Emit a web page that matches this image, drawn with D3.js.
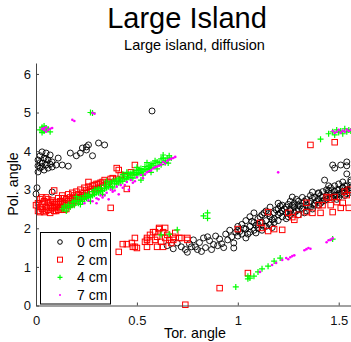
<!DOCTYPE html>
<html>
<head>
<meta charset="utf-8">
<script src="https://cdn.jsdelivr.net/npm/d3@7"></script>
<style>
  body { margin: 0; background: #fff; }
  svg { display: block; font-family: 'Liberation Sans', Arial, sans-serif; }
</style>
</head>
<body>
<div id="chart"></div>
<script>
// series names shown in the legend
var seriesNames = ['0 cm', '2 cm', '4 cm', '7 cm'];

// tick labels
var xTicks = [0, 0.5, 1, 1.5];
var yTicks = [0, 1, 2, 3, 4, 5, 6];

// 0 cm  [tor, pol]
var cm0 = [
  [0.01,3.77],[0.02,3.88],[0.03,3.69],[0.04,3.82],[0.05,3.64],[0.06,3.77],[0.07,3.90],[0.08,3.72],
  [0.02,3.56],[0.04,3.51],[0.01,3.46],[0.06,3.56],[0.08,3.59],[0.03,3.98],[0.05,3.95],[0.00,2.89],
  [0.005,3.05],[0.08,2.94],[0.10,3.64],[0.11,3.82],[0.13,3.64],[0.16,3.61],[0.17,3.95],[0.20,3.88],
  [0.22,3.95],[0.23,4.08],[0.25,4.11],[0.25,4.03],[0.26,4.16],[0.28,3.88],[0.31,4.21],[0.34,4.16],
  [0.02,3.70],[0.03,3.60],[0.05,3.80],[0.07,3.66],[0.01,3.62],
  [0.575,5.04],
  [0.65,1.55],[0.68,1.47],[0.70,1.62],[0.72,1.52],[0.74,1.45],[0.76,1.60],[0.78,1.70],[0.79,1.52],
  [0.81,1.63],[0.83,1.75],[0.84,1.50],[0.86,1.68],[0.88,1.58],[0.89,1.80],[0.91,1.72],[0.92,1.60],
  [0.94,1.85],[0.95,1.70],[0.97,1.78],[0.98,1.62],[0.99,1.90],[0.82,1.40],[0.87,1.45],[0.93,1.50],
  [0.75,1.38],[0.98,1.49],[0.96,1.95],[0.90,1.55],[0.85,1.78],[0.80,1.45],[0.77,1.52],
  [1.00,1.80],[1.00,2.05],[1.00,1.95],[1.02,2.10],[1.02,1.85],[1.04,1.98],[1.04,2.20],[1.04,1.75],
  [1.06,2.05],[1.06,2.30],[1.06,1.90],[1.08,2.15],[1.08,1.95],[1.08,2.40],[1.10,2.00],[1.10,2.25],
  [1.10,2.10],[1.12,2.35],[1.12,2.15],[1.12,1.95],[1.14,2.20],[1.14,2.45],[1.14,2.05],[1.16,2.30],
  [1.16,2.10],[1.16,2.55],[1.18,2.25],[1.18,2.40],[1.18,2.15],[1.20,2.35],[1.20,2.50],[1.20,2.20],
  [1.20,2.65],[1.22,2.30],[1.22,2.45],[1.22,2.60],[1.24,2.40],[1.24,2.55],[1.24,2.25],[1.26,2.50],
  [1.26,2.35],[1.26,2.70],[1.26,2.45],[1.28,2.55],[1.28,2.40],[1.28,2.65],[1.30,2.50],[1.30,2.70],
  [1.30,2.35],[1.30,2.60],[1.32,2.65],[1.32,2.50],[1.32,2.80],[1.34,2.60],[1.34,2.75],[1.34,2.45],
  [1.36,2.70],[1.36,2.55],[1.36,2.85],[1.38,2.65],[1.38,2.80],[1.38,2.60],[1.40,2.75],[1.40,2.90],
  [1.40,2.60],[1.42,2.80],[1.42,2.70],[1.42,2.95],[1.44,2.85],[1.44,2.75],[1.44,3.00],[1.46,2.90],
  [1.46,2.80],[1.46,3.05],[1.48,2.95],[1.48,2.85],[1.48,3.10],[1.50,3.00],[1.50,2.90],[1.50,3.15],
  [1.50,2.80],[1.52,3.05],[1.52,2.95],[1.52,3.20],[1.54,3.00],[1.54,3.10],[1.54,2.90],[1.56,3.05],
  [1.56,3.20],
  [1.01,1.92],[1.03,2.00],[1.05,1.85],[1.07,2.18],[1.09,2.08],[1.11,2.30],[1.13,2.05],[1.15,2.38],
  [1.17,2.22],[1.19,2.48],[1.21,2.40],[1.23,2.50],[1.25,2.30],[1.27,2.60],[1.29,2.45],[1.31,2.58],
  [1.33,2.70],[1.35,2.55],[1.37,2.78],[1.39,2.70],[1.41,2.85],[1.43,2.72],[1.45,2.92],[1.47,2.78],
  [1.49,3.00],[1.51,2.88],[1.53,3.10],[1.55,2.98],[1.09,1.88],[1.13,2.40],[1.17,2.02],[1.21,2.58],
  [1.25,2.62],[1.29,2.75],[1.33,2.40],[1.37,2.50],[1.41,2.65],[1.45,3.10],[1.49,2.75],[1.53,2.85],
  [1.47,3.64],[1.48,3.56],[1.51,3.64],[1.54,3.72],[1.54,3.62],[1.54,3.41],[1.43,3.25],[1.27,2.81],
  [1.37,2.94],[1.40,2.92],[1.45,2.99],[1.49,2.86],[1.52,3.05],[1.55,2.92],[1.56,3.25]
];

// 2 cm
var cm2 = [
  [0.01,2.45],[0.01,2.65],[0.02,2.55],[0.02,2.75],[0.03,2.50],[0.03,2.62],[0.04,2.42],[0.04,2.70],
  [0.05,2.55],[0.05,2.80],[0.06,2.48],[0.06,2.66],[0.07,2.58],[0.07,2.40],[0.08,2.72],[0.08,2.52],
  [0.09,2.62],[0.09,2.45],[0.10,2.68],[0.10,2.55],[0.11,2.78],[0.11,2.48],[0.12,2.62],[0.12,2.70],
  [0.13,2.55],[0.13,2.85],[0.14,2.65],[0.14,2.48],[0.15,2.75],[0.15,2.60],[0.16,2.70],[0.16,2.88],
  [0.17,2.80],[0.17,2.62],[0.18,2.75],[0.18,2.92],[0.19,2.85],[0.20,2.78],[0.20,2.95],[0.21,2.88],
  [0.22,2.80],[0.22,3.00],[0.23,2.92],[0.24,3.05],[0.24,2.85],[0.25,2.98],[0.26,3.08],[0.27,2.95],
  [0.28,3.10],[0.29,3.02],[0.30,3.15],[0.31,3.05],[0.32,3.18],[0.33,3.10],[0.34,3.25],[0.36,3.20],
  [0.38,3.30],[0.40,3.28],[0.42,3.38],[0.44,3.35],[0.47,3.45],
  [0.00,2.60],[0.02,2.42],[0.03,2.80],[0.05,2.45],[0.06,2.75],[0.07,2.68],[0.09,2.55],[0.10,2.45],
  [0.11,2.62],[0.12,2.52],[0.13,2.68],[0.14,2.78],[0.15,2.50],[0.16,2.60],[0.18,2.65],[0.19,2.72],
  [0.20,2.70],[0.21,2.78],[0.23,2.82],[0.25,2.90],[0.27,3.02],[0.29,3.12],[0.31,3.15],[0.33,3.20],
  [0.35,3.15],[0.37,3.28],
  [0.26,3.20],[0.21,2.81],[0.40,3.56],[0.37,2.53],[0.49,3.64],[0.41,3.51],[0.45,3.02],[0.09,2.98],
  [0.41,1.39],[0.43,1.59],[0.45,1.59],[0.48,1.52],[0.50,1.49],[0.54,1.65],[0.55,1.75],[0.565,1.65],
  [0.58,1.90],[0.59,1.70],[0.60,1.78],[0.61,2.01],[0.62,1.65],[0.64,1.75],[0.65,1.83],[0.66,1.70],
  [0.67,1.62],[0.68,1.78],[0.69,1.88],[0.71,1.75],[0.75,1.75],[0.565,1.83],[0.63,1.90],[0.49,1.75],
  [0.55,1.70],[0.59,1.90],[0.61,1.98],[0.64,2.01],[0.55,1.52],[0.60,1.52],[0.63,1.52],[0.68,1.70],
  [0.72,1.75],[0.75,1.70],[0.49,1.52],[0.475,1.62],
  [0.74,0.02],[0.91,0.45],[1.05,0.84],
  [1.15,2.42],[1.11,2.14],[1.00,1.98],[1.12,2.01],[1.18,1.98],[1.22,1.96],[1.15,1.93],[1.25,2.40],
  [1.27,2.29],[1.28,2.22],[1.30,2.35],[1.34,2.66],[1.34,2.42],[1.37,2.40],[1.40,2.60],[1.41,2.40],
  [1.42,2.60],[1.45,2.79],[1.46,2.60],[1.47,2.42],[1.49,2.68],[1.51,2.53],[1.52,2.66],[1.54,2.86],
  [1.55,2.53],[1.44,2.81],[1.48,2.81],[1.55,3.00],[1.53,2.95],
  [1.36,4.16],[1.48,4.23]
];

// 4 cm
var cm4 = [
  [0.13,2.50],[0.14,2.58],[0.15,2.45],[0.16,2.62],[0.17,2.55],[0.18,2.68],[0.19,2.60],[0.20,2.72],
  [0.21,2.65],[0.22,2.78],[0.23,2.70],[0.24,2.85],[0.25,2.78],[0.26,2.88],[0.27,2.82],[0.28,2.95],
  [0.29,2.88],[0.30,3.00],[0.31,2.92],[0.32,3.05],[0.33,2.98],[0.34,3.12],[0.35,3.05],[0.36,3.15],
  [0.37,3.08],[0.38,3.22],[0.39,3.15],[0.40,3.25],[0.41,3.18],[0.42,3.30],[0.43,3.22],[0.44,3.35],
  [0.45,3.28],[0.46,3.40],[0.47,3.32],[0.48,3.45],[0.49,3.38],[0.50,3.50],[0.51,3.42],[0.52,3.55],
  [0.53,3.48],[0.54,3.60],[0.55,3.52],[0.56,3.62],[0.57,3.58],[0.58,3.68],[0.60,3.72],[0.62,3.80],
  [0.64,3.75],[0.66,3.88],[0.67,3.82],[0.22,2.62],[0.27,2.70],[0.33,2.88],[0.38,3.05],[0.43,3.40],
  [0.48,3.30],[0.53,3.38],[0.20,2.82],[0.29,3.00],[0.35,3.22],[0.45,3.45],[0.55,3.70],[0.62,3.65],
  [0.63,3.90],[0.65,3.82],[0.655,3.69],[0.60,3.54],
  [0.14,2.52],[0.16,2.55],[0.18,2.60],[0.19,2.70],[0.21,2.72],[0.23,2.78],[0.24,2.75],[0.25,2.85],
  [0.26,2.80],[0.28,2.85],[0.30,2.92],[0.31,3.02],[0.32,2.95],[0.34,3.02],[0.36,3.08],[0.37,3.18],
  [0.39,3.22],[0.40,3.15],[0.41,3.28],[0.42,3.22],[0.44,3.28],[0.46,3.32],[0.47,3.42],[0.49,3.45],
  [0.50,3.40],[0.51,3.52],[0.52,3.45],[0.54,3.52],[0.56,3.55],[0.57,3.66],[0.59,3.62],[0.61,3.70],
  [0.63,3.82],[0.64,3.70],[0.59,3.75],[0.57,3.45],[0.50,3.58],[0.52,3.25],
  [0.02,4.55],[0.03,4.62],[0.04,4.52],[0.05,4.60],[0.06,4.57],[0.07,4.50],[0.04,4.65],[0.03,4.48],
  [0.28,4.99],[0.27,5.00],
  [1.45,4.45],[1.47,4.50],[1.48,4.42],[1.49,4.55],[1.50,4.48],[1.51,4.52],[1.52,4.45],[1.53,4.58],
  [1.54,4.50],[1.55,4.55],[1.56,4.52],[1.41,4.31],
  [0.83,2.32],[0.85,2.40],[0.85,2.26],[0.62,1.83],[0.66,1.85],[0.70,1.96],
  [0.99,0.48],[1.05,0.69],[1.06,0.71],[1.08,0.76],[1.10,0.87],[1.12,0.95],[1.15,1.02],[1.18,1.15],
  [1.21,1.23],[1.47,1.72],[1.05,0.76]
];

// 7 cm
var cm7 = [
  [0.28,2.70],[0.30,2.78],[0.32,2.85],[0.33,2.80],[0.35,2.92],[0.37,3.00],[0.38,2.95],[0.40,3.08],
  [0.42,3.12],[0.43,3.05],[0.45,3.20],[0.47,3.25],[0.48,3.18],[0.50,3.32],[0.52,3.38],[0.53,3.30],
  [0.55,3.45],[0.57,3.50],[0.58,3.55],[0.60,3.60],[0.62,3.65],[0.63,3.72],[0.65,3.75],[0.67,3.80],
  [0.69,3.85],[0.36,2.75],[0.41,2.88],[0.46,3.00],[0.24,2.65],[0.26,2.72],[0.30,2.65],
  [0.31,2.75],[0.34,2.85],[0.39,2.98],[0.44,3.12],[0.49,3.22],[0.54,3.40],[0.56,3.48],[0.59,3.58],
  [0.61,3.62],[0.64,3.68],[0.66,3.78],[0.68,3.82],
  [0.03,4.58],[0.04,4.55],[0.05,4.62],[0.06,4.55],[0.07,4.58],[0.05,4.50],[0.08,4.60],[0.04,4.60],
  [0.18,4.81],[0.19,4.78],[0.28,4.99],[0.29,4.97],
  [1.47,4.52],[1.49,4.50],[1.50,4.55],[1.51,4.48],[1.52,4.53],[1.53,4.50],[1.54,4.56],[1.55,4.52],
  [1.56,4.55],[1.48,4.47],[1.20,3.45],
  [1.11,0.87],[1.17,1.05],[1.22,1.18],[1.24,1.23],[1.26,1.25],[1.27,1.28],[1.33,1.43],[1.35,1.49],
  [1.36,1.47],[1.44,1.64],[1.45,1.69],[1.47,1.74],[1.46,1.70],[1.34,1.46],[1.25,1.20],[1.28,1.30],
  [1.19,1.10]
];

var width = 351, height = 342;
var plot = {left: 36, top: 63, right: 353, bottom: 305.5};

var svg = d3.select('#chart').append('svg')
    .attr('width', width)
    .attr('height', height);

var x = d3.scaleLinear().domain([0, Math.PI / 2]).range([plot.left, plot.right]);
var y = d3.scaleLinear().domain([0, 2 * Math.PI]).range([plot.bottom, plot.top]);

// markers
var marks = svg.append('g');

function plus(cx, cy, s) {
    return 'M' + (cx - s) + ',' + cy + 'h' + (2 * s) + 'M' + cx + ',' + (cy - s) + 'v' + (2 * s);
}

marks.selectAll('circle.c0').data(cm0).enter().append('circle')
    .attr('cx', function (d) { return x(d[0]); })
    .attr('cy', function (d) { return y(d[1]); })
    .attr('r', 3)
    .attr('fill', 'none')
    .attr('stroke', '#000')
    .attr('stroke-width', 0.9);

marks.selectAll('rect.c2').data(cm2).enter().append('rect')
    .attr('x', function (d) { return x(d[0]) - 2.75; })
    .attr('y', function (d) { return y(d[1]) - 2.75; })
    .attr('width', 5.5)
    .attr('height', 5.5)
    .attr('fill', 'none')
    .attr('stroke', '#ff0000')
    .attr('stroke-width', 1);

marks.selectAll('path.c4').data(cm4).enter().append('path')
    .attr('d', function (d) { return plus(x(d[0]), y(d[1]), 3); })
    .attr('fill', 'none')
    .attr('stroke', '#00ff00')
    .attr('stroke-width', 1.2);

marks.selectAll('circle.c7').data(cm7).enter().append('circle')
    .attr('cx', function (d) { return x(d[0]); })
    .attr('cy', function (d) { return y(d[1]); })
    .attr('r', 1.3)
    .attr('fill', '#ff00ff');

// axes (MATLAB style, ticks inside)
var xAxis = svg.append('g')
    .attr('transform', 'translate(0,' + plot.bottom + ')')
    .call(d3.axisBottom(x).tickValues(xTicks).tickSizeInner(-3).tickSizeOuter(0).tickPadding(10)
        .tickFormat(d3.format('')));
var yAxis = svg.append('g')
    .attr('transform', 'translate(' + plot.left + ',0)')
    .call(d3.axisLeft(y).tickValues(yTicks).tickSizeInner(-3).tickSizeOuter(0).tickPadding(5)
        .tickFormat(d3.format('d')));

[xAxis, yAxis].forEach(function (a) {
    a.select('.domain').attr('stroke', '#444');
    a.selectAll('.tick line').attr('stroke', '#444');
    a.selectAll('text').attr('font-size', 13).attr('fill', '#111')
        .style('font-family', "'Liberation Sans', Arial, sans-serif");
});

// titles
svg.append('text')
    .attr('x', 187).attr('y', 28)
    .attr('text-anchor', 'middle')
    .attr('font-size', 29)
    .text('Large Island');

svg.append('text')
    .attr('x', 194.5).attr('y', 50)
    .attr('text-anchor', 'middle')
    .attr('font-size', 14.5)
    .text('Large island, diffusion');

svg.append('text')
    .attr('x', 195).attr('y', 338)
    .attr('text-anchor', 'middle')
    .attr('font-size', 14.3)
    .text('Tor. angle');

svg.append('text')
    .attr('transform', 'translate(18,184) rotate(-90)')
    .attr('text-anchor', 'middle')
    .attr('font-size', 14.3)
    .text('Pol. angle');

// legend
var legend = svg.append('g');
legend.append('rect')
    .attr('x', 40.5).attr('y', 232.5)
    .attr('width', 70).attr('height', 71.5)
    .attr('fill', '#fff')
    .attr('stroke', '#000');

var rowY = d3.scalePoint().domain(seriesNames).range([242, 295]);

seriesNames.forEach(function (name, i) {
    var cy = rowY(name), cx = 60;
    if (i === 0) {
        legend.append('circle').attr('cx', cx).attr('cy', cy).attr('r', 2.3)
            .attr('fill', 'none').attr('stroke', '#000');
    } else if (i === 1) {
        legend.append('rect').attr('x', cx - 2.5).attr('y', cy - 2.5).attr('width', 5).attr('height', 5)
            .attr('fill', 'none').attr('stroke', '#ff0000');
    } else if (i === 2) {
        legend.append('path').attr('d', plus(cx, cy, 2.5))
            .attr('stroke', '#00ff00').attr('stroke-width', 1.2);
    } else {
        legend.append('circle').attr('cx', cx).attr('cy', cy).attr('r', 1)
            .attr('fill', '#ff00ff');
    }
    legend.append('text')
        .attr('x', 77).attr('y', cy)
        .attr('dy', '0.35em')
        .attr('font-size', 14)
        .text(name);
});
</script>
</body>
</html>
